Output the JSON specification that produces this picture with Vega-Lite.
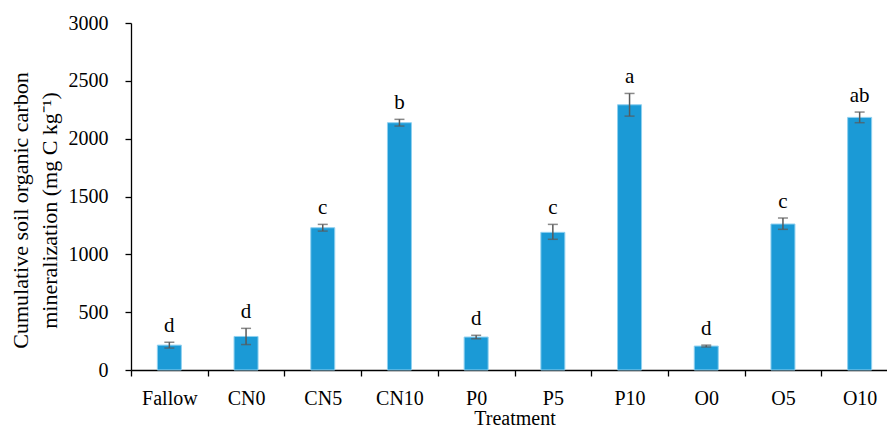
{
  "$schema": "https://vega.github.io/schema/vega-lite/v6.json",
  "width": 767,
  "height": 347,
  "autosize": "none",
  "padding": {"left": 131, "top": 23, "right": 0, "bottom": 60},
  "background": "white",
  "config": {
    "view": {"stroke": null},
    "font": "Liberation Serif",
    "axis": {
      "labelFont": "Liberation Serif",
      "titleFont": "Liberation Serif",
      "labelColor": "black",
      "titleColor": "black",
      "titleFontWeight": "normal",
      "domainColor": "black",
      "tickColor": "black",
      "domainWidth": 1.3,
      "tickWidth": 1.3,
      "tickSize": 6,
      "grid": false
    }
  },
  "data": {
    "values": [
      {"treatment": "Fallow", "mean": 215, "lo": 190, "hi": 240, "letter": "d"},
      {"treatment": "CN0", "mean": 290, "lo": 220, "hi": 360, "letter": "d"},
      {"treatment": "CN5", "mean": 1230, "lo": 1201, "hi": 1259, "letter": "c"},
      {"treatment": "CN10", "mean": 2138, "lo": 2109, "hi": 2167, "letter": "b"},
      {"treatment": "P0", "mean": 285, "lo": 270, "hi": 300, "letter": "d"},
      {"treatment": "P5", "mean": 1190, "lo": 1130, "hi": 1259, "letter": "c"},
      {"treatment": "P10", "mean": 2293, "lo": 2195, "hi": 2391, "letter": "a"},
      {"treatment": "O0", "mean": 207, "lo": 199, "hi": 215, "letter": "d"},
      {"treatment": "O5", "mean": 1262, "lo": 1216, "hi": 1314, "letter": "c"},
      {"treatment": "O10", "mean": 2184, "lo": 2138, "hi": 2230, "letter": "ab"}
    ]
  },
  "encoding": {
    "x": {
      "field": "treatment",
      "type": "nominal",
      "sort": null,
      "scale": {"paddingInner": 0, "paddingOuter": 0},
      "axis": {
        "title": "Treatment",
        "labelAngle": 0,
        "tickBand": "extent",
        "labelFontSize": 20,
        "titleFontSize": 20,
        "labelPadding": 12,
        "titlePadding": 0
      }
    }
  },
  "resolve": {"axis": {"y": "independent"}},
  "layer": [
    {
      "mark": {"type": "bar", "size": 24, "color": "#1B9AD6", "stroke": "#8FD0F0", "strokeWidth": 1},
      "encoding": {
        "y": {
          "field": "mean",
          "type": "quantitative",
          "scale": {"domain": [0, 3000]},
          "axis": {
            "values": [0, 500, 1000, 1500, 2000, 2500, 3000],
            "format": "d",
            "labelFontSize": 20,
            "labelPadding": 17,
            "title": ["Cumulative soil organic carbon", "mineralization (mg C kg⁻¹)"],
            "titleFontSize": 22,
            "titleLineHeight": 29,
            "titleAngle": -90,
            "titleAlign": "center",
            "titleBaseline": "alphabetic",
            "titleX": -104,
            "titleY": 187
          }
        }
      }
    },
    {
      "mark": {
        "type": "errorbar",
        "ticks": {"size": 10, "thickness": 1.5, "color": "#595959"},
        "rule": {"strokeWidth": 1.5, "color": "#595959"}
      },
      "encoding": {
        "y": {"field": "lo", "type": "quantitative", "axis": null},
        "y2": {"field": "hi"}
      }
    },
    {
      "mark": {"type": "text", "dy": -10, "baseline": "alphabetic", "fontSize": 21, "font": "Liberation Serif", "color": "black"},
      "encoding": {
        "y": {"field": "hi", "type": "quantitative", "axis": null},
        "text": {"field": "letter"}
      }
    }
  ]
}
